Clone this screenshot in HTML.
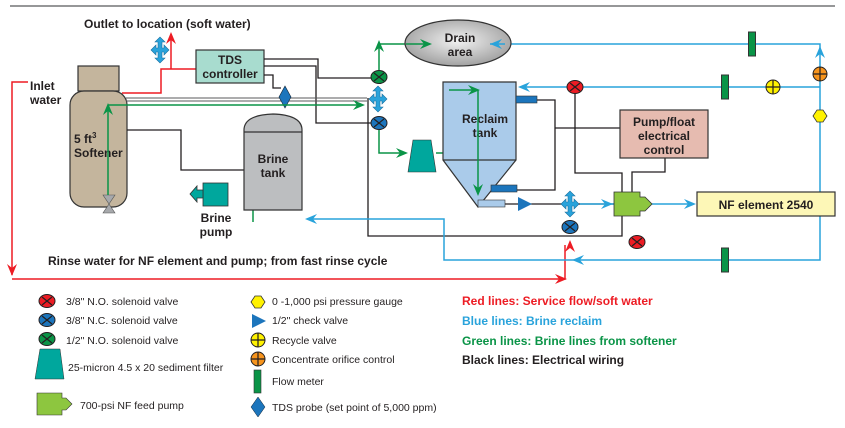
<!DOCTYPE html>
<html><head><meta charset="utf-8"><style>
body{margin:0;background:#fff}
svg{display:block;font-family:"Liberation Sans",sans-serif}
.b{font-weight:bold;font-size:12px;fill:#231f20}
.l{font-size:10.5px;fill:#231f20}
</style></head><body>
<svg width="845" height="428" viewBox="0 0 845 428" xmlns="http://www.w3.org/2000/svg">
<defs>
<radialGradient id="dg" cx="50%" cy="45%" r="60%"><stop offset="0" stop-color="#f2f2f2"/><stop offset="1" stop-color="#9a9a9a"/></radialGradient>
<g id="xv"><ellipse rx="8" ry="6.5" stroke="#231f20" stroke-width="1"/><path d="M-5,-4L5,4M-5,4L5,-4" stroke="#231f20" stroke-width="1.2"/></g>
<g id="fm"><rect x="-3.5" y="-12" width="7" height="24" fill="#0a9447" stroke="#333" stroke-width="1"/></g>
<g id="cv"><circle r="7" stroke="#231f20" stroke-width="1"/><path d="M-7,0H7M0,-7V7" stroke="#231f20" stroke-width="1.2"/></g>
<g id="fw"><path d="M-9,0l5,-5v3h2v-6h-3l5,-5 5,5h-3v6h2v-3l5,5 -5,5v-3h-2v6h3l-5,5 -5,-5h3v-6h-2v3z" fill="#29a3db" stroke="#1a6fa0" stroke-width="0.6"/></g>
</defs>
<line x1="10" y1="6" x2="835" y2="6" stroke="#58595b" stroke-width="1.2"/>
<text x="84" y="28" class="b">Outlet to location (soft water)</text>
<text x="30" y="90" class="b">Inlet</text><text x="30" y="104" class="b">water</text>
<g stroke="#ed1c24" stroke-width="1.5" fill="none">
<path d="M28,82H12V275"/><path d="M12,279H565V245"/>
<path d="M122,93H161V69H196"/><path d="M171,69V36"/>
</g>
<g fill="#ed1c24">
<path d="M12,276l-5,-12 5,4 5,-4z"/><path d="M567,279l-12,-5 4,5 -4,5z"/>
<path d="M570,240l-5,12 5,-4 5,4z"/><path d="M171,32l-5,12 5,-4 5,4z"/>
</g>
<use href="#fw" x="160" y="50"/>
<rect x="78" y="66" width="41" height="25" fill="#c4b59d" stroke="#333" stroke-width="1.2"/>
<rect x="70" y="91" width="57" height="116" rx="14" fill="#c4b59d" stroke="#333" stroke-width="1.2"/>
<text x="74" y="143" class="b">5 ft<tspan font-size="8" dy="-5">3</tspan></text>
<text x="74" y="157" class="b">Softener</text>
<path d="M103,195h12l-6,9 6,9h-12l6,-9z" fill="#a7a9ac" stroke="#555" stroke-width="0.6"/>
<rect x="196" y="50" width="68" height="33" fill="#a8dccf" stroke="#333" stroke-width="1.2"/>
<text x="230" y="64" class="b" text-anchor="middle">TDS</text>
<text x="230" y="78" class="b" text-anchor="middle">controller</text>
<g stroke="#231f20" stroke-width="1.3" fill="none">
<path d="M264,59H318V78H371"/><path d="M264,66H316V123H371"/>
<path d="M264,75H273V88H281"/>
<path d="M127,130H181V170H244"/>
<path d="M368,98V236H622V214"/>
<path d="M516,100H555V190H516"/><path d="M555,128H620"/>
<path d="M575,93V173H622V192"/><path d="M665,158V172H632V192"/>
<path d="M505,204H614"/>
</g>
<path d="M126,98H367M126,101H367" stroke="#58595b" stroke-width="1" fill="none"/>
<path d="M285,86l6,11 -6,11 -6,-11z" fill="#1c75bc" stroke="#123" stroke-width="0.6"/>
<g stroke="#0a9447" stroke-width="1.5" fill="none">
<path d="M108,195V108"/><path d="M108,105H362"/>
<path d="M253,222V130"/>
<path d="M379,70V44H425"/>
<path d="M379,130V153H405"/>
<path d="M436,153H449V90H476"/><path d="M478,90V192"/>
</g>
<g fill="#0a9447">
<path d="M108,103l-5,12 5,-4 5,4z"/><path d="M365,105l-12,-5 4,5 -4,5z"/>
<path d="M253,124l-5,12 5,-4 5,4z"/><path d="M379,40l-5,12 5,-4 5,4z"/>
<path d="M432,44l-12,-5 4,5 -4,5z"/><path d="M408,153l-12,-5 4,5 -4,5z"/>
<path d="M480,90l-12,-5 4,5 -4,5z"/><path d="M478,196l-5,-12 5,4 5,-4z"/>
</g>
<path d="M244,210V130Q244,115 273,114Q302,115 302,130V210z" fill="#bcbec0" stroke="#333" stroke-width="1.2"/>
<line x1="244" y1="132" x2="302" y2="132" stroke="#333" stroke-width="1.2"/>
<text x="273" y="163" class="b" text-anchor="middle">Brine</text>
<text x="273" y="177" class="b" text-anchor="middle">tank</text>
<rect x="203" y="183" width="25" height="23" fill="#00a79d" stroke="#333" stroke-width="0.8"/>
<path d="M203,190h-6v-4l-7,8 7,8v-4h6z" fill="#00a79d" stroke="#333" stroke-width="0.8"/>
<text x="216" y="222" class="b" text-anchor="middle">Brine</text>
<text x="216" y="236" class="b" text-anchor="middle">pump</text>
<g stroke="#29a3db" stroke-width="1.5" fill="none">
<path d="M310,219H444V260H820V44H495"/>
<path d="M820,87H522"/>
<path d="M614,204H580"/><path d="M652,204H693"/>
</g>
<g fill="#29a3db">
<path d="M305,219l12,-5 -4,5 4,5z"/><path d="M490,44l12,-5 -4,5 4,5z"/>
<path d="M518,87l12,-5 -4,5 4,5z"/><path d="M820,46l-5,12 5,-4 5,4z"/>
<path d="M572,260l12,-5 -4,5 4,5z"/><path d="M613,204l-12,-5 4,5 -4,5z"/>
<path d="M696,204l-12,-5 4,5 -4,5z"/>
</g>
<ellipse cx="458" cy="43" rx="53" ry="23" fill="url(#dg)" stroke="#333" stroke-width="1.2"/>
<text x="460" y="42" class="b" text-anchor="middle">Drain</text>
<text x="460" y="56" class="b" text-anchor="middle">area</text>
<g stroke="#0a9447" stroke-width="1.5"><path d="M406,44H425"/></g>
<path d="M432,44l-12,-5 4,5 -4,5z" fill="#0a9447"/>
<path d="M490,44H505" stroke="#29a3db" stroke-width="1.5"/>
<path d="M490,44l12,-5 -4,5 4,5z" fill="#29a3db"/>
<path d="M443,82H516V160L478,207L443,160z" fill="#aacbea" stroke="#333" stroke-width="1.2"/>
<line x1="443" y1="160" x2="516" y2="160" stroke="#333" stroke-width="1.2"/>
<text x="485" y="123" class="b" text-anchor="middle">Reclaim</text>
<text x="485" y="137" class="b" text-anchor="middle">tank</text>
<path d="M449,90H476M478,90V192" stroke="#0a9447" stroke-width="1.5" fill="none"/>
<path d="M480,90l-12,-5 4,5 -4,5z" fill="#0a9447"/><path d="M478,196l-5,-12 5,4 5,-4z" fill="#0a9447"/>
<rect x="516" y="96" width="21" height="7" fill="#1c75bc" stroke="#333" stroke-width="0.6"/>
<rect x="491" y="185" width="26" height="7" fill="#1c75bc" stroke="#333" stroke-width="0.6"/>
<rect x="478" y="200" width="27" height="7" fill="#aacbea" stroke="#333" stroke-width="0.6"/>
<path d="M518,197l14,7 -14,7z" fill="#1c75bc"/>
<path d="M408,172l5,-32h18l5,32z" fill="#00a79d" stroke="#333" stroke-width="0.6"/>
<rect x="620" y="110" width="88" height="48" fill="#e6bbb0" stroke="#333" stroke-width="1.2"/>
<text x="664" y="126" class="b" text-anchor="middle">Pump/float</text>
<text x="664" y="140" class="b" text-anchor="middle">electrical</text>
<text x="664" y="154" class="b" text-anchor="middle">control</text>
<path d="M614,192H640V197H645L652,204L645,211H640V216H614z" fill="#8dc63f" stroke="#333" stroke-width="0.8"/>
<rect x="697" y="192" width="138" height="24" fill="#fdf7b7" stroke="#333" stroke-width="1.2"/>
<text x="766" y="209" class="b" text-anchor="middle">NF element 2540</text>
<use href="#xv" x="379" y="77" fill="#0a9447"/>
<use href="#fw" x="378" y="99"/>
<use href="#xv" x="379" y="123" fill="#1c75bc"/>
<use href="#xv" x="575" y="87" fill="#ed1c24"/>
<use href="#fw" x="570" y="204"/>
<use href="#xv" x="570" y="227" fill="#1c75bc"/>
<use href="#xv" x="637" y="242" fill="#ed1c24"/>
<use href="#fm" x="752" y="44"/><use href="#fm" x="725" y="87"/><use href="#fm" x="725" y="260"/>
<use href="#cv" x="773" y="87" fill="#fff200"/>
<use href="#cv" x="820" y="74" fill="#f7941d"/>
<path d="M813,116l4,-6h6l4,6 -4,6h-6z" fill="#fff200" stroke="#333" stroke-width="0.8"/>
<text x="48" y="265" class="b">Rinse water for NF element and pump; from fast rinse cycle</text>
<use href="#xv" x="47" y="301" fill="#ed1c24"/>
<use href="#xv" x="47" y="320" fill="#1c75bc"/>
<use href="#xv" x="47" y="339" fill="#0a9447"/>
<path d="M35,379l5,-30h20l4,30z" fill="#00a79d" stroke="#333" stroke-width="0.5"/>
<path d="M37,393H62V398H66L72,404L66,410H62V415H37z" fill="#8dc63f" stroke="#333" stroke-width="0.6"/>
<text x="66" y="305" class="l">3/8" N.O. solenoid valve</text>
<text x="66" y="324" class="l">3/8" N.C. solenoid valve</text>
<text x="66" y="344" class="l">1/2" N.O. solenoid valve</text>
<text x="68" y="371" class="l">25-micron 4.5 x 20 sediment filter</text>
<text x="80" y="409" class="l">700-psi NF feed pump</text>
<path d="M251,302l4,-6h6l4,6 -4,6h-6z" fill="#fff200" stroke="#333" stroke-width="0.8"/>
<path d="M252,314l14,7 -14,7z" fill="#1c75bc"/>
<use href="#cv" x="258" y="340" fill="#fff200"/>
<use href="#cv" x="258" y="359" fill="#f7941d"/>
<rect x="254" y="370" width="7" height="23" fill="#0a9447" stroke="#333" stroke-width="0.6"/>
<path d="M258,397l7,10 -7,10 -7,-10z" fill="#1c75bc" stroke="#123" stroke-width="0.5"/>
<text x="272" y="305" class="l">0 -1,000 psi pressure gauge</text>
<text x="272" y="324" class="l">1/2" check valve</text>
<text x="272" y="344" class="l">Recycle valve</text>
<text x="272" y="363" class="l">Concentrate orifice control</text>
<text x="272" y="385" class="l">Flow meter</text>
<text x="272" y="411" class="l">TDS probe (set point of 5,000 ppm)</text>
<text x="462" y="305" class="b" style="fill:#ed1c24">Red lines: Service flow/soft water</text>
<text x="462" y="325" class="b" style="fill:#29a3db">Blue lines: Brine reclaim</text>
<text x="462" y="345" class="b" style="fill:#0a9447">Green lines: Brine lines from softener</text>
<text x="462" y="364" class="b">Black lines: Electrical wiring</text>
</svg>
</body></html>
